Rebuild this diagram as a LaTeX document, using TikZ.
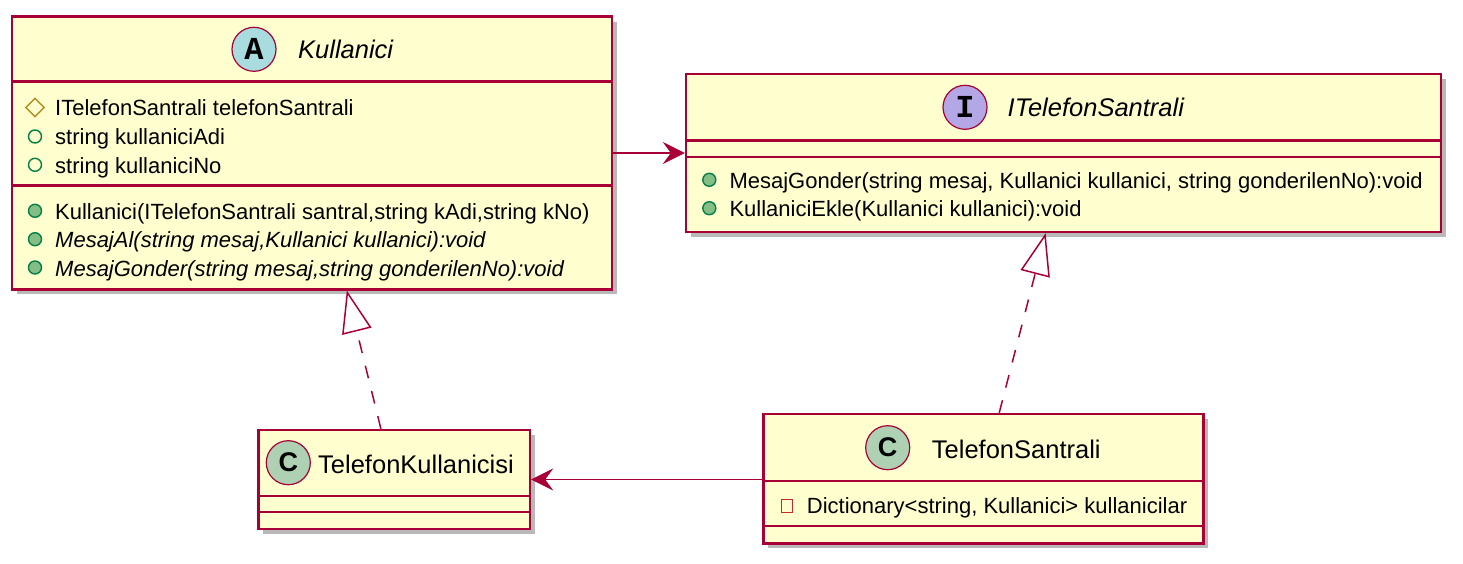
\documentclass[tikz,border=0pt]{standalone}
\usepackage{fontspec}
\setmainfont{Liberation Sans}
\newfontfamily\spotfont{Liberation Mono}
\usepackage{tikz}
\usetikzlibrary{arrows.meta,shadows,shapes.geometric,calc}
\definecolor{umlborder}{HTML}{A80036}
\definecolor{umlfill}{HTML}{FEFECE}
\definecolor{spotA}{HTML}{A9DCDF}
\definecolor{spotI}{HTML}{B4A7E5}
\definecolor{spotC}{HTML}{ADD1B2}
\definecolor{visgreen}{HTML}{038048}
\definecolor{visfill}{HTML}{84BE84}
\definecolor{visprot}{HTML}{B38D22}
\definecolor{vispriv}{HTML}{C82930}
\tikzstyle{cls} = [draw=umlborder,fill=umlfill,line width=2.4pt,inner sep=0,
  drop shadow={shadow xshift=5pt,shadow yshift=-5pt,fill=black!50,opacity=.55}]
\tikzstyle{divider} = [draw=umlborder,line width=2.4pt]
\tikzstyle{spot} = [circle,draw=umlborder,line width=1.2pt,minimum size=44pt,inner sep=0]
\tikzstyle{txt} = [anchor=base west,inner sep=0,font=\fontsize{22}{26}\selectfont]
\tikzstyle{clsname} = [anchor=base west,inner sep=0,font=\fontsize{25.5}{30}\selectfont]
\tikzstyle{pubfield} = [circle,draw=visgreen,line width=1.4pt,minimum size=13pt,inner sep=0]
\tikzstyle{pubmethod} = [pubfield,fill=visfill]
\tikzstyle{protfield} = [diamond,draw=visprot,line width=1.4pt,minimum size=19pt,inner sep=0]
\tikzstyle{privfield} = [rectangle,draw=vispriv,line width=1.4pt,minimum width=11pt,minimum height=13pt,inner sep=0]

\begin{document}
\begin{tikzpicture}[x=1pt,y=-1pt,
    assoc/.style={draw=umlborder,line width=1.5pt,-{Stealth[length=22pt,width=22pt,inset=8pt]}},
    real/.style={draw=umlborder,line width=1.5pt,dash pattern=on 13pt off 13pt,-{Triangle[open,length=42pt,width=30pt]}}]

    \fill[white] (0,0) rectangle (1463,564);
    \useasboundingbox (0,0) rectangle (1463,564);

    % classes
    \node[cls,minimum width=600.3pt,minimum height=272.6pt] (K) at (311.85,153) {};
    \node[cls,minimum width=755pt,minimum height=158pt] (I) at (1063.5,153) {};
    \node[cls,minimum width=271.7pt,minimum height=99pt] (TK) at (394.15,479.5) {};
    \node[cls,minimum width=440pt,minimum height=129.3pt] (TS) at (983.3,478.65) {};

    \draw[divider] (K.west |- 0,81.7) -- (K.east |- 0,81.7);
    \draw[divider] (K.west |- 0,185.7) -- (K.east |- 0,185.7);
    \draw[divider] (I.west |- 0,140.7) -- (I.east |- 0,140.7);
    \draw[divider] (I.west |- 0,157.3) -- (I.east |- 0,157.3);
    \draw[divider] (TK.west |- 0,495.7) -- (TK.east |- 0,495.7);
    \draw[divider] (TK.west |- 0,512) -- (TK.east |- 0,512);
    \draw[divider] (TS.west |- 0,481) -- (TS.east |- 0,481);
    \draw[divider] (TS.west |- 0,526) -- (TS.east |- 0,526);

    % headers
    \node[spot,fill=spotA] (Kspot) at (254,49.3) {\spotfont\bfseries\fontsize{32}{32}\selectfont A};
    \node[clsname] (Kname) at (298,58.4) {\itshape Kullanici};
    \node[spot,fill=spotI] (Ispot) at (965,107.3) {\spotfont\bfseries\fontsize{32}{32}\selectfont I};
    \node[clsname] (Iname) at (1007.5,116.5) {\itshape ITelefonSantrali};
    \node[spot,fill=spotC] (TKspot) at (288.3,462.7) {\fontsize{27}{27}\selectfont\bfseries C};
    \node[clsname] (TKname) at (318,473.3) {TelefonKullanicisi};
    \node[spot,fill=spotC] (TSspot) at (887.7,447.7) {\fontsize{27}{27}\selectfont\bfseries C};
    \node[clsname] (TSname) at (931.7,458.3) {TelefonSantrali};

    % Kullanici members
    \node[protfield] (Kv1) at (35,107.5) {};
    \node[txt] (Ka1) at (55,116) {ITelefonSantrali telefonSantrali};
    \node[pubfield] (Kv2) at (35,136.5) {};
    \node[txt] (Ka2) at (55,145) {string kullaniciAdi};
    \node[pubfield] (Kv3) at (35,164.8) {};
    \node[txt] (Ka3) at (55,173.3) {string kullaniciNo};
    \node[pubmethod] (Kv4) at (35,210.8) {};
    \node[txt] (Km1) at (55,219.3) {Kullanici(ITelefonSantrali santral,string kAdi,string kNo)};
    \node[pubmethod] (Kv5) at (35,239.2) {};
    \node[txt] (Km2) at (55,247.7) {\itshape MesajAl(string mesaj,Kullanici kullanici):void};
    \node[pubmethod] (Kv6) at (35,267.5) {};
    \node[txt] (Km3) at (55,276) {\itshape MesajGonder(string mesaj,string gonderilenNo):void};

    % ITelefonSantrali members
    \node[pubmethod] (Iv1) at (709.3,179.8) {};
    \node[txt] (Im1) at (729.3,188.3) {MesajGonder(string mesaj, Kullanici kullanici, string gonderilenNo):void};
    \node[pubmethod] (Iv2) at (709.3,208.2) {};
    \node[txt] (Im2) at (729.3,216.7) {KullaniciEkle(Kullanici kullanici):void};

    % TelefonSantrali members
    \node[privfield] (TSv1) at (786.7,506) {};
    \node[txt] (TSa1) at (806.7,513.3) {Dictionary<string, Kullanici> kullanicilar};

    % relations
    \draw[assoc] (K.east |- I.west) -- (I.west);
    \draw[assoc] (TS.west |- TK.east) -- (TK.east);
    \draw[real] ($(TK.north west)!0.4516!(TK.north east)$) -- ($(K.south west)!0.558!(K.south east)$);
    \draw[real] ($(TS.north west)!0.536!(TS.north east)$) -- ($(I.south west)!0.4764!(I.south east)$);

\end{tikzpicture}
\end{document}
